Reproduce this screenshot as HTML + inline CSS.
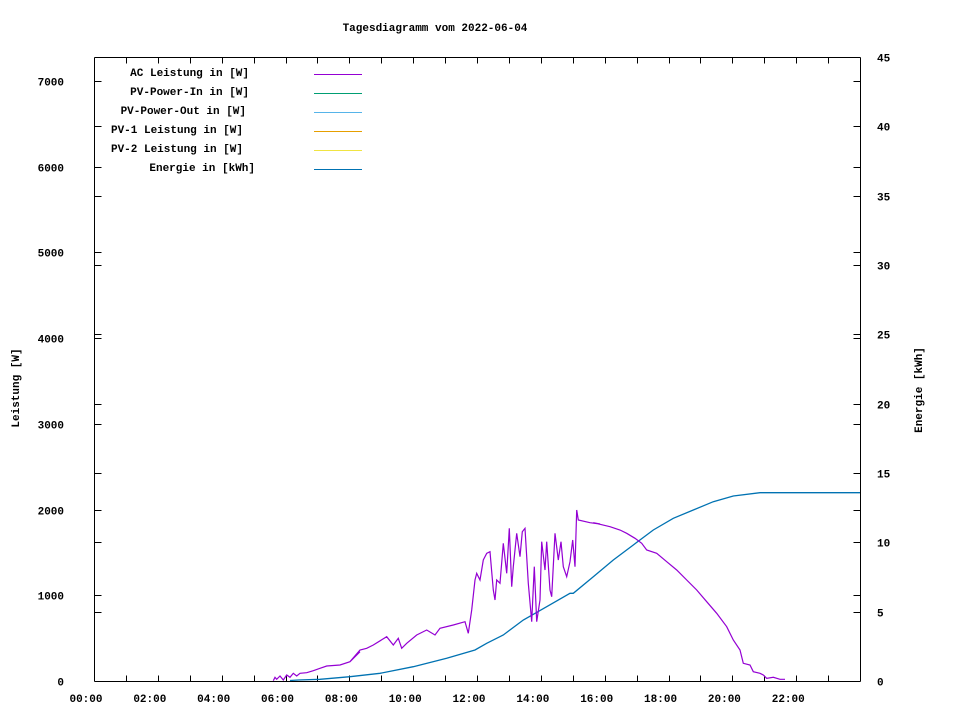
<!DOCTYPE html>
<html><head><meta charset="utf-8"><style>
body{margin:0;background:#fff}
svg text{font-family:"Liberation Mono",monospace;font-size:11px;font-weight:bold;fill:#000}
</style></head><body>
<svg id="s" width="960" height="720" xmlns="http://www.w3.org/2000/svg">
<rect width="960" height="720" fill="#fff"/>
<text x="435" y="31" text-anchor="middle">Tagesdiagramm vom 2022-06-04</text>
<text transform="translate(19,388) rotate(-90)" text-anchor="middle">Leistung [W]</text>
<text transform="translate(922,390) rotate(-90)" text-anchor="middle">Energie [kWh]</text>
<g id="ax" stroke="#000" stroke-width="1" fill="none"></g>
<g id="lab"></g>
<g text-anchor="end">
<text x="249" y="76">AC Leistung in [W]</text>
<text x="249" y="95">PV-Power-In in [W]</text>
<text x="246" y="114">PV-Power-Out in [W]</text>
<text x="243" y="133">PV-1 Leistung in [W]</text>
<text x="243" y="152">PV-2 Leistung in [W]</text>
<text x="255" y="171">Energie in [kWh]</text>
</g>
<g stroke-width="1">
<line x1="314" y1="74.5" x2="362" y2="74.5" stroke="#9400d3"/>
<line x1="314" y1="93.5" x2="362" y2="93.5" stroke="#009e73"/>
<line x1="314" y1="112.5" x2="362" y2="112.5" stroke="#56b4e9"/>
<line x1="314" y1="131.5" x2="362" y2="131.5" stroke="#e69f00"/>
<line x1="314" y1="150.5" x2="362" y2="150.5" stroke="#f0e442"/>
<line x1="314" y1="169.5" x2="362" y2="169.5" stroke="#0072b2"/>
</g>
<polyline id="en" fill="none" stroke="#0072b2" stroke-width="1.3"/>
<polyline id="ac" fill="none" stroke="#9400d3" stroke-width="1.2"/>
</svg>
<script>
var NS="http://www.w3.org/2000/svg";
var ax=document.getElementById('ax'),lab=document.getElementById('lab');
function L(x1,y1,x2,y2){var l=document.createElementNS(NS,'line');l.setAttribute('x1',x1);l.setAttribute('y1',y1);l.setAttribute('x2',x2);l.setAttribute('y2',y2);ax.appendChild(l);}
function T(x,y,s,a){var t=document.createElementNS(NS,'text');t.setAttribute('x',x);t.setAttribute('y',y);t.setAttribute('text-anchor',a);t.textContent=s;lab.appendChild(t);}
var X0=94.5,X1=860.5,Y0=681.5,Y1=57.5;
L(X0,Y1,X1,Y1);L(X0,Y0,X1,Y0);L(X0,Y1,X0,Y0);L(X1,Y1,X1,Y0);
for(var h=1;h<24;h++){var x=Math.round(94+h*31.92)+0.5;L(x,Y0,x,Y0-6);L(x,Y1,x,Y1+6);}
for(var h=0;h<24;h+=2){var x=94+h*31.92-8;T(x,702,(h<10?'0':'')+h+':00','middle');}
for(var v=0;v<=7000;v+=1000){var y=Math.round(681-v*0.08571)+0.5;if(v>0){L(X0,y,X0+7,y);L(X1,y,X1-7,y);}T(64,y+4,String(v),'end');}
for(var k=0;k<=45;k+=5){var y=Math.round(681-k*13.867)+0.5;if(k>0&&k<45){L(X1,y,X1-7,y);L(X0,y,X0+7,y);}T(877,y+4,String(k),'start');}
function conv(a,ox,oy){var r=[];for(var i=0;i<a.length;i+=2)r.push((ox+a[i]/3).toFixed(1)+','+(oy+a[i+1]/3).toFixed(1));return r;}
var z1=[640,122,645,112,650,118,660,108,670,120,680,105,690,112,700,100,710,108,720,100,740,98,760,92,780,85,800,78,840,75,870,65,900,35];
var z4=[240,485,270,450,290,445,310,435,350,410,370,435,385,415,395,445,410,430,440,405,470,390,495,405,510,385,550,375,585,365,595,400,605,330,615,240,620,220,630,240,640,180,650,160,660,155,665,215,670,270,675,300,680,240,690,250,700,130,710,220,718,85,725,260,730,200,740,100,750,170,757,95,765,85,775,250,785,365,793,200,800,365,810,300,815,125,825,210,830,125,840,270,845,290,855,100,865,180,873,125,880,200,890,230,900,185,908,120,915,200,920,30,925,60,960,68,990,72];
var z5=[100,128,150,140,180,150,200,160,225,175,245,190,260,210,290,220,320,245,350,270,380,300,410,330,440,365,470,400,500,440,520,480,540,510,550,550,570,555,580,575,600,580,610,585,620,595,640,592,660,598,675,598];
var ac=[].concat(conv(z1,60,640),conv(z4,270,500),conv(z5,560,480));
document.getElementById('ac').setAttribute('points',ac.join(' '));
var e4=[85,540,150,538,240,530,330,520,430,500,530,475,615,450,650,430,700,405,760,360,830,320,900,280];
var e5=[40,340,100,290,160,240,220,195,280,150,340,115,400,90,460,65,520,48,600,38,750,38];
var en=['290,680.5'].concat(conv(e4,270,500),conv(e5,560,480),['860,492.7']);
document.getElementById('en').setAttribute('points',en.join(' '));
</script>
</body></html>
